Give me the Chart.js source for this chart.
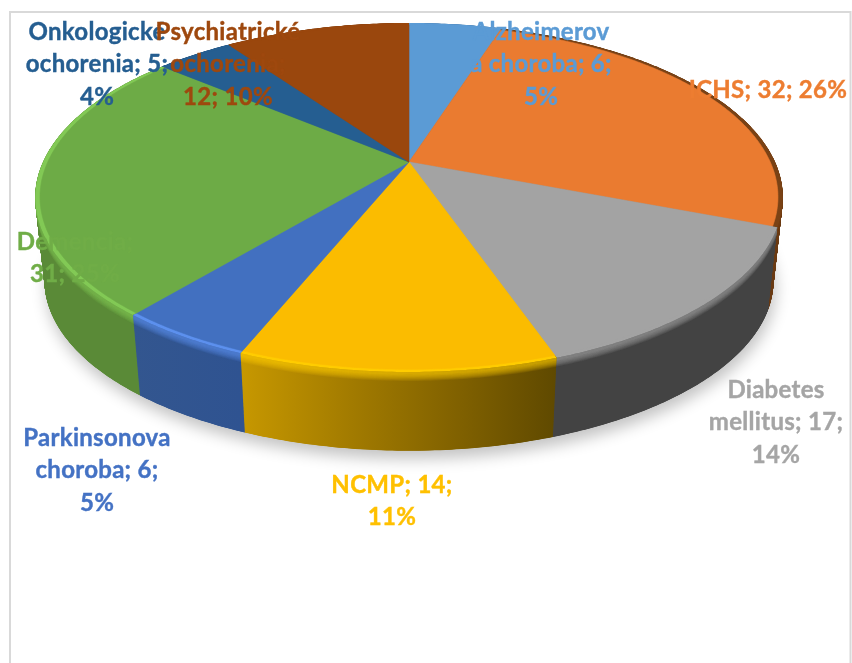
<!DOCTYPE html>
<html>
<head>
<meta charset="utf-8">
<style>html,body{margin:0;padding:0;background:#fff}canvas{display:block}</style>
<script src="https://cdn.jsdelivr.net/npm/chart.js@4"></script>
</head>
<body>
<canvas id="c" width="852" height="663"></canvas>
<script>
const categories = ["Alzheimerova choroba","ICHS","Diabetes mellitus","NCMP","Parkinsonova choroba","Demencia","Onkologické ochorenia","Psychiatrické ochorenia"];
const values = [6,32,17,14,6,31,5,12];
const labelLines = [
  ["Alzheimerov","a choroba; 6;","5%"],
  ["ICHS; 32; 26%"],
  ["Diabetes","mellitus; 17;","14%"],
  ["NCMP; 14;","11%"],
  ["Parkinsonova","choroba; 6;","5%"],
  ["Demencia;","31; 25%"],
  ["Onkologické","ochorenia; 5;","4%"],
  ["Psychiatrické","ochorenia;","12; 10%"]
];
const colors = ["#5b9bd5","#ea7b30","#a3a3a3","#fbbc00","#4270c0","#6dab46","#255e91","#9a470d"];
const textColors = ["#5b9bd5","#ed7d31","#a5a5a5","#ffc000","#4472c4","#70ad47","#255e91","#9e480e"];

/* styling and layout */
const labelPos = [[541,32],[768,90],[776,390],[392,485],[97,438],[75,242],[97,32],[228,32]];
const lineH = 32.6;
const FONT = 'bold 24px Lato, "Open Sans", sans-serif';
const wallStops = [
  [["#3f6f9c",0]],
  [["#6a3a12",0]],
  [["#434343",0]],
  [["#c79800",0],["#a27b00",.35],["#7f6000",.7],["#5f4900",1]],
  [["#33568f",0],["#2f5391",1]],
  [["#5a8a37",0]],
  [["#1c466d",0]],
  [["#743509",0]]
];
const bandColors = ["#5b9bd5","#7a4215","#a3a3a3","#ffcc00","#5c90ee","#82c955","#255e91","#9a470d"];

/* projective view of the disc */
const CX=409, CY=162, A=366, B=167.3, K=0.2034, DEPTH=84, SHRINK=0.025, FACE=0.987;
function project(theta,d,inset){
  const u=Math.cos(theta), v=Math.sin(theta), w=1-K*v;
  const s=(inset||1)*(1-SHRINK*d/DEPTH);
  return [CX+s*A*u/w, CY+d+s*B*v/w];
}
function sector(ctx,a0,a1,d,inset){
  ctx.beginPath();
  ctx.moveTo(CX,CY+d);
  const n=Math.max(2,Math.ceil((a1-a0)/0.012));
  for(let i=0;i<=n;i++){
    const p=project(a0+(a1-a0)*i/n,d,inset);
    ctx.lineTo(p[0],p[1]);
  }
  ctx.closePath();
}
const pie3d = {
  id:'pie3d',
  beforeDraw(chart){
    const ctx=chart.ctx;
    ctx.save();
    ctx.fillStyle='#fff';
    ctx.fillRect(0,0,852,663);
    ctx.strokeStyle='#d9d9d9';
    ctx.lineWidth=2;
    ctx.strokeRect(10,12,840.5,700);
    ctx.restore();
  },
  beforeDatasetsDraw(chart){
    const ctx=chart.ctx, arcs=chart.getDatasetMeta(0).data;
    ctx.save();
    /* soft cast shadow */
    ctx.save();
    ctx.shadowColor='rgba(0,0,0,0.24)';
    ctx.shadowBlur=15;
    ctx.shadowOffsetY=9;
    ctx.shadowOffsetX=2;
    ctx.fillStyle='#888';
    sector(ctx,0,Math.PI*2,DEPTH-1);
    ctx.fill();
    ctx.restore();
    /* walls */
    const grads=arcs.map((arc,i)=>{
      const p0=project(arc.startAngle,0), p1=project(arc.endAngle,0);
      const g=ctx.createLinearGradient(Math.min(p0[0],p1[0]),0,Math.max(p0[0],p1[0]),0);
      wallStops[i].forEach(st=>g.addColorStop(st[1],st[0]));
      return g;
    });
    for(let d=DEPTH;d>=0;d-=0.25){
      arcs.forEach((arc,i)=>{
        sector(ctx,arc.startAngle,arc.endAngle,d);
        const a = d<=2 ? 1 : d>=10 ? 0 : (10-d)/8;
        ctx.fillStyle=grads[i];
        ctx.fill();
        if(a>0){
          ctx.globalAlpha=a;
          ctx.fillStyle=bandColors[i];
          ctx.fill();
          ctx.globalAlpha=1;
        }
      });
    }
    /* top face: slice angles come from the pie controller */
    arcs.forEach((arc,i)=>{
      sector(ctx,arc.startAngle,arc.endAngle,0,FACE);
      ctx.fillStyle=colors[i];
      ctx.fill();
      ctx.strokeStyle=colors[i];
      ctx.lineWidth=0.6;
      ctx.stroke();
    });
    ctx.restore();
    return false;
  },
  afterDraw(chart){
    const ctx=chart.ctx;
    ctx.save();
    ctx.font=FONT;
    ctx.letterSpacing='0.3px';
    ctx.textAlign='center';
    ctx.textBaseline='middle';
    ctx.lineWidth=0.4;
    labelLines.forEach((lines,i)=>{
      ctx.fillStyle=textColors[i];
      ctx.strokeStyle=textColors[i];
      lines.forEach((t,j)=>{
        ctx.fillText(t,labelPos[i][0],labelPos[i][1]+j*lineH);
        ctx.strokeText(t,labelPos[i][0],labelPos[i][1]+j*lineH);
      });
    });
    ctx.restore();
  }
};
new Chart(document.getElementById('c').getContext('2d'),{
  type:'pie',
  data:{labels:categories,datasets:[{data:values,backgroundColor:colors,borderWidth:0}]},
  options:{
    responsive:false,animation:false,events:[],
    plugins:{legend:{display:false},tooltip:{enabled:false}}
  },
  plugins:[pie3d]
});
</script>
</body>
</html>
